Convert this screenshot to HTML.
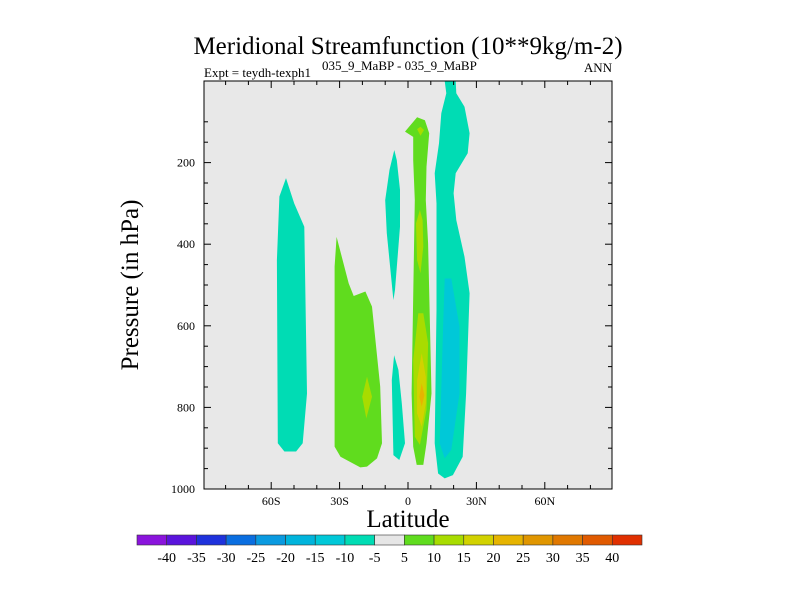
<!DOCTYPE html>
<html><head><meta charset="utf-8"><style>
html,body{margin:0;padding:0;background:#fff;}
svg{display:block;font-family:"Liberation Serif",serif;}
</style></head><body>
<svg id="chart" width="800" height="600" viewBox="0 0 800 600">
<text x="408" y="54" font-size="25" text-anchor="middle">Meridional Streamfunction (10**9kg/m-2)</text>
<text x="204" y="77" font-size="13">Expt = teydh-texph1</text>
<text x="322" y="70" font-size="13">035_9_MaBP - 035_9_MaBP</text>
<text x="612" y="72" font-size="13" text-anchor="end">ANN</text>
<rect x="204" y="81" width="408" height="408" fill="#e8e8e8"/>
<g id="fills"></g>
<g id="axes"></g>
<rect x="204" y="81" width="408" height="408" fill="none" stroke="#000" stroke-width="1"/>
<text transform="translate(138,285) rotate(-90)" font-size="25" text-anchor="middle">Pressure (in hPa)</text>
<text x="408" y="527" font-size="25" text-anchor="middle">Latitude</text>
<g id="cbar"></g>
</svg>
<script>
const contourLevels=[-45,-40,-35,-30,-25,-20,-15,-10,-5,5,10,15,20,25,30,35,40,45];
const levelColors=["#8a14dc","#5a14dc","#1e32dc","#0a6ee0","#0a9ae0","#00b4dc","#00c8d8","#00dcb4","#e6e6e6","#60dc1e","#a8dc00","#d2d200","#e6b400","#e09600","#e07800","#e05a00","#e03000"];
const colorbarLabels=[-40,-35,-30,-25,-20,-15,-10,-5,5,10,15,20,25,30,35,40];
const latTicks=[-60,-30,0,30,60];
const latTickLabels=["60S","30S","0","30N","60N"];
const pTicks=[200,400,600,800,1000];
// contour regions: level value (lower bound) and polygons in [lat, pressure]
const regionLevels=[-10,-10,-10,-10,5,5,5,10,10,10,10,15,20,-15];
const regionShapes=[
[[-53.5,238],[-56.4,283],[-57.5,439],[-57.1,888],[-54.2,908],[-49.1,908],[-46.2,888],[-44.3,766],[-45.5,357],[-49.9,300]],
[[-6,169],[-8.1,218],[-10,292],[-9.3,373],[-6.4,537],[-5.7,512],[-3.5,357],[-3.5,267],[-4.9,194]],
[[-6.1,672],[-7.1,733],[-6.4,917],[-3.8,929],[-1.3,888],[-2.7,790],[-4.2,708]],
[[16.1,0],[16.8,30],[14.6,79],[13.6,153],[11.7,226],[12.5,300],[12.5,561],[11.7,888],[13.2,962],[16.1,974],[19.7,966],[24,921],[25.5,766],[27,520],[24.8,431],[21.2,341],[20,275],[20.9,226],[26.2,177],[27,128],[24.8,63],[21.2,30],[20.9,0]],
[[-31.3,382],[-32.2,455],[-32.2,896],[-29.6,921],[-20.9,947],[-18,945],[-13.6,925],[-11.4,888],[-12.2,749],[-15.8,553],[-18.7,516],[-23.8,527],[-26,496]],
[[-1.3,124],[2.3,137],[2.3,194],[3,292],[1.6,766],[2.3,896],[3.8,941],[6.7,941],[8.1,888],[10.3,766],[8.8,398],[7.8,292],[8.1,210],[9.3,128],[7.4,96],[4,89]],
[[5.2,316],[3.5,349],[4,439],[5.5,471],[6.7,406],[6.4,341]],
[[-18,725],[-20.1,774],[-18.3,827],[-15.8,774]],
[[5.2,316],[3.5,349],[4,439],[5.5,471],[6.7,406],[6.4,341]],
[[4,118],[5.5,112],[7,120],[5.5,134]],
[[4.5,569],[2.3,684],[3,872],[5.2,892],[8.1,806],[8.8,643],[6.7,569]],
[[6,667],[4,733],[4,815],[6,847],[7.8,790],[7.8,725]],
[[6,741],[5,774],[6,798],[7.2,770]],
[[16.1,484],[15.4,602],[13.9,888],[16.1,925],[19,904],[22.6,766],[22.6,602],[19,484]]
];
const NS="http://www.w3.org/2000/svg";
const X0=204,X1=612,Y0=81,Y1=489;
function xs(lat){return 408+lat*2.28;}
function ys(p){return Y0+(p/1000)*(Y1-Y0);}
function colorFor(v){for(let i=0;i<contourLevels.length-1;i++){if(v>=contourLevels[i]&&v<contourLevels[i+1])return levelColors[i];}return levelColors[levelColors.length-1];}
function mk(t,a,parent){const e=document.createElementNS(NS,t);for(const k in a)e.setAttribute(k,a[k]);parent.appendChild(e);return e;}
const fills=document.getElementById('fills');
regionShapes.forEach((poly,i)=>{
  const pts=poly.map(d=>xs(d[0]).toFixed(1)+","+ys(d[1]).toFixed(1)).join(" ");
  const e=mk('polygon',{points:pts,fill:colorFor(regionLevels[i])},fills);
  
  
});
const axes=document.getElementById('axes');
for(let lat=-80;lat<=80;lat+=10){
  const x=xs(lat), maj=lat%30===0;
  const L=maj?7:4;
  mk('line',{x1:x,y1:Y1,x2:x,y2:Y1-L,stroke:'#000'},axes);
  mk('line',{x1:x,y1:Y0,x2:x,y2:Y0+L,stroke:'#000'},axes);
}
latTicks.forEach((v,i)=>{
  const t=mk('text',{x:xs(v),y:Y1+16,'font-size':12,'text-anchor':'middle'},axes);
  t.textContent=latTickLabels[i];
  
  
});
for(let p=100;p<1000;p+=50){
  const y=ys(p), maj=p%200===0;
  const L=maj?7:4;
  mk('line',{x1:X0,y1:y,x2:X0+L,y2:y,stroke:'#000'},axes);
  mk('line',{x1:X1,y1:y,x2:X1-L,y2:y,stroke:'#000'},axes);
}
pTicks.forEach(v=>{
  const t=mk('text',{x:X0-9,y:ys(v)+4,'font-size':12,'text-anchor':'end'},axes);
  t.textContent=v;
  
  
});
const cb=document.getElementById('cbar');
const cbX=137,cbW=505,cbY=535,cbH=10,n=levelColors.length,bw=cbW/n;
levelColors.forEach((c,i)=>{
  const r=mk('rect',{x:cbX+i*bw,y:cbY,width:bw,height:cbH,fill:c,stroke:'#333','stroke-width':0.6},cb);
  
  
});
colorbarLabels.forEach(v=>{
  const idx=contourLevels.indexOf(v);
  const t=mk('text',{x:cbX+idx*bw,y:562,'font-size':14,'text-anchor':'middle'},cb);
  t.textContent=v;
  
  
});
</script>
</body></html>
